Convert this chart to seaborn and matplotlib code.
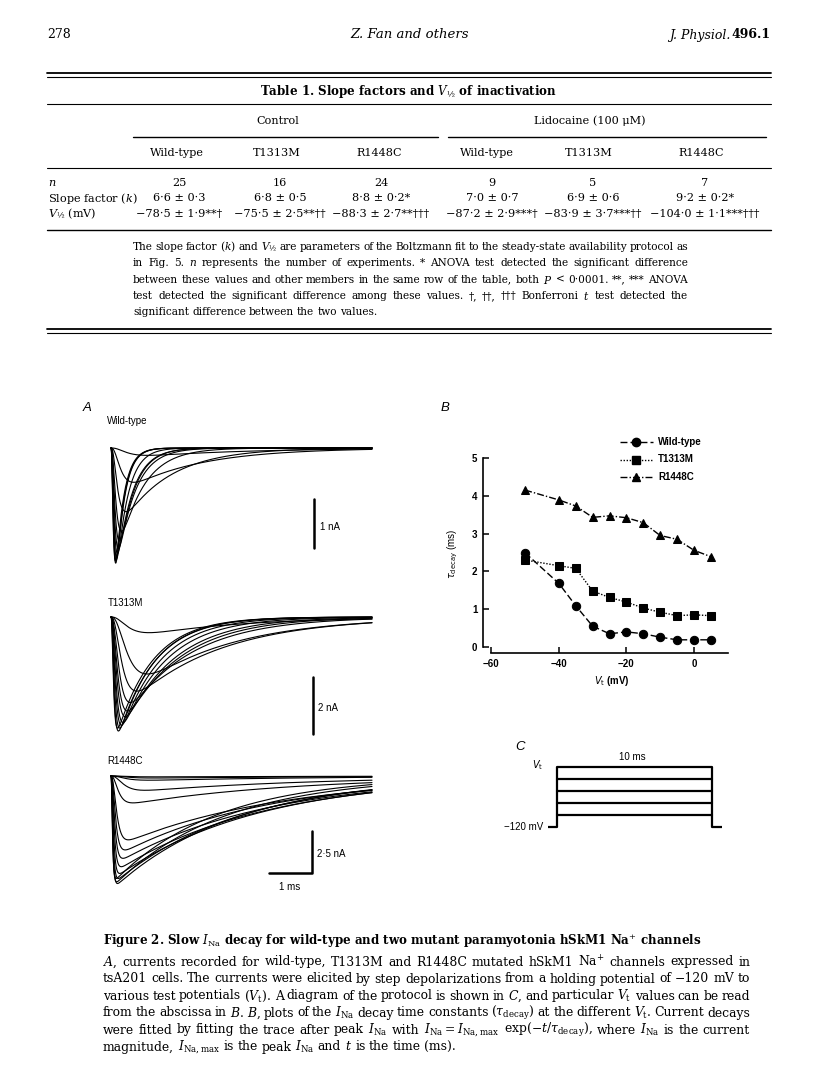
import re
import numpy as np
import pandas as pd
import seaborn as sns
import matplotlib.pyplot as plt
from matplotlib.lines import Line2D

# =========================
# Data
# =========================
# B: decay time constant (ms) at each test potential V_t (mV)
vt = [-50, -40, -35, -30, -25, -20, -15, -10, -5, 0, 5]
tau_wt = [2.49, 1.68, 1.09, 0.55, 0.35, 0.40, 0.35, 0.26, 0.19, 0.19, 0.19]
tau_t1313m = [2.30, 2.15, 2.08, 1.48, 1.31, 1.19, 1.03, 0.92, 0.83, 0.85, 0.83]
tau_r1448c = [4.15, 3.89, 3.73, 3.43, 3.47, 3.42, 3.29, 2.95, 2.85, 2.56, 2.39]

# A: peak current (nA) and activation time constant (ms) of each trace (same V_t as B)
amp_wt = [0.15, 0.7, 1.3, 1.7, 1.9, 2.05, 2.15, 2.25, 2.3, 2.35, 2.3]
taum_wt = [0.25, 0.15, 0.1, 0.08, 0.07, 0.055, 0.048, 0.045, 0.045, 0.04, 0.036]
amp_t1313m = [0.55, 2.0, 2.6, 3.0, 3.3, 3.5, 3.7, 3.8, 3.9, 4.0, 3.9]
taum_t1313m = [0.27, 0.26, 0.165, 0.125, 0.105, 0.09, 0.075, 0.064, 0.052, 0.042, 0.036]
amp_r1448c = [0.85, 1.6, 3.8, 4.4, 4.9, 5.4, 5.8, 6.1, 6.4, 6.3, 6.1]
taum_r1448c = [0.19, 0.11, 0.082, 0.065, 0.053, 0.044, 0.036, 0.030, 0.026, 0.0225, 0.0205]
# R1448C record also has three small traces below -50 mV
amp_r_small = [0.05, 0.12, 0.25]
taum_r_small = [0.25, 0.25, 0.22]
tauh_r_small = [4.5, 4.5, 4.3]
trace_len = 6.07  # ms

# C: pulse protocol (mV, ms)
v_hold = -120
v_steps = [-95, -70, -45, -20, 5]
pulse_ms = 10

# Table 1
groups = ["Control", "Lidocaine (100 μM)"]
genotypes = ["Wild-type", "T1313M", "R1448C", "Wild-type", "T1313M", "R1448C"]
n_cells = [25, 16, 24, 9, 5, 7]
k_mean = [6.6, 6.8, 8.8, 7.0, 6.9, 9.2]
k_sem = [0.3, 0.5, 0.2, 0.7, 0.6, 0.2]
k_mark = ["", "", "*", "", "", "*"]
vh_mean = [-78.5, -75.5, -88.3, -87.2, -83.9, -104.0]
vh_sem = [1.9, 2.5, 2.7, 2.9, 3.7, 1.1]
vh_mark = ["**†", "**††", "**†††", "***†", "***††", "***†††"]

table_note = [
    "The slope factor ($k$) and $V_{½}$ are parameters of the Boltzmann fit to the steady-state availability protocol as",
    "in Fig. 5. $n$ represents the number of experiments. * ANOVA test detected the significant difference",
    "between these values and other members in the same row of the table, both $P$ < 0·0001. **, *** ANOVA",
    "test detected the significant difference among these values. †, ††, ††† Bonferroni $t$ test detected the",
    "significant difference between the two values.",
]
caption_title = "Figure 2. Slow $I_{\\rm Na}$ decay for wild-type and two mutant paramyotonia hSkM1 Na$^{+}$ channels"
caption = [
    "$A$, currents recorded for wild-type, T1313M and R1448C mutated hSkM1 Na$^{+}$ channels expressed in",
    "tsA201 cells. The currents were elicited by step depolarizations from a holding potential of −120 mV to",
    "various test potentials ($V_{\\rm t}$). A diagram of the protocol is shown in $C$, and particular $V_{\\rm t}$ values can be read",
    "from the abscissa in $B$. $B$, plots of the $I_{\\rm Na}$ decay time constants ($\\tau_{\\rm decay}$) at the different $V_{\\rm t}$. Current decays",
    "were fitted by fitting the trace after peak $I_{\\rm Na}$ with $I_{\\rm Na} = I_{\\rm Na,max}$ exp(−$t/\\tau_{\\rm decay}$), where $I_{\\rm Na}$ is the current",
    "magnitude, $I_{\\rm Na,max}$ is the peak $I_{\\rm Na}$ and $t$ is the time (ms).",
]

# =========================
# Page setup
# =========================
sns.set_theme(style="white")
plt.rcParams["font.family"] = ["DejaVu Serif"]
plt.rcParams["mathtext.fontset"] = "dejavuserif"
for key in ["text.color", "axes.labelcolor", "xtick.color", "ytick.color", "axes.edgecolor"]:
    plt.rcParams[key] = "black"
SANS = ["Liberation Sans", "DejaVu Sans"]
SERIF = ["DejaVu Serif"]

W, H = 816, 1088
fig = plt.figure(figsize=(W / 100, H / 100), dpi=100)
rend = fig.canvas.get_renderer()


def ptext(x, y, s, **kw):
    kw.setdefault("va", "center")
    kw.setdefault("color", "black")
    return fig.text(x / W, 1 - y / H, s, **kw)


def hrule(x0, x1, y, lw=0.8):
    fig.add_artist(Line2D([x0 / W, x1 / W], [1 - y / H] * 2, lw=lw, color="black",
                          transform=fig.transFigure))


def px_axes(left, top, right, bottom):
    return fig.add_axes([left / W, 1 - bottom / H, (right - left) / W, (bottom - top) / H])


def justify(line, x0, x1, y, size, last=False, **kw):
    words = re.findall(r"(?:\$[^$]*\$|\S)+", line)
    objs = [ptext(x0, y, w, size=size, ha="left", family=SERIF, **kw) for w in words]
    widths = [o.get_window_extent(rend).width for o in objs]
    if last or len(words) == 1:
        gap = size * 0.4
    else:
        gap = (x1 - x0 - sum(widths)) / (len(words) - 1)
    x = x0
    for o, w in zip(objs, widths):
        o.set_x(x / W)
        x += w + gap


# =========================
# Running head
# =========================
ptext(47, 35, "278", size=9, ha="left")
ptext(410, 35, "Z. Fan and others", size=9.5, ha="center", style="italic")
vol = ptext(771, 35, "496.1", size=9, ha="right", weight="bold")
vw = vol.get_window_extent(rend).width
ptext(771 - vw - 1, 35, "J. Physiol.", size=9, ha="right", style="italic")

# =========================
# Table 1
# =========================
L, R = 47, 771
FS = 8.1
hrule(L, R, 73, 1.3)
hrule(L, R, 77, 0.8)
ptext(408, 91, "Table 1. Slope factors and $V_{½}$ of inactivation", size=8.6, ha="center", weight="bold")
hrule(L, R, 104, 0.8)
ptext(278, 121, groups[0], size=FS, ha="center")
ptext(590, 121, groups[1], size=FS, ha="center")
hrule(133, 438, 137, 1.0)
hrule(448, 766, 137, 1.0)
head_x = [177, 277, 379, 487, 589, 701]
val_x = [179, 280, 381, 492, 593, 705]
for x, g in zip(head_x, genotypes):
    ptext(x, 153, g, size=FS, ha="center")
hrule(L, R, 168, 0.8)


def fmt(v):
    return f"{v:.1f}".replace(".", "·").replace("-", "−")


ptext(L + 1, 183, "$n$", size=FS, ha="left")
ptext(L + 1, 198, "Slope factor ($k$)", size=FS, ha="left")
ptext(L + 1, 214, "$V_{½}$ (mV)", size=FS, ha="left")
for i, x in enumerate(val_x):
    ptext(x, 183, str(n_cells[i]), size=FS, ha="center")
    ptext(x, 198, f"{fmt(k_mean[i])} ± {fmt(k_sem[i])}{k_mark[i]}", size=FS, ha="center")
    ptext(x, 214, f"{fmt(vh_mean[i])} ± {fmt(vh_sem[i])}{vh_mark[i]}", size=FS, ha="center")
hrule(L, R, 230, 1.0)

for i, line in enumerate(table_note):
    justify(line, 133, 688, 247 + 16.3 * i, 7.6, last=(i == len(table_note) - 1))
hrule(L, R, 329, 1.3)
hrule(L, R, 333, 0.8)

# =========================
# A: current traces
# =========================
T0, PPMS = 111, 43.0  # px of t=0, px per ms
t = np.linspace(0, trace_len, 900)


def trace(a, tm, th):
    y = (1 - np.exp(-t / tm)) ** 3 * np.exp(-t / th)
    return -a * y / y.max()


def trace_axes(top, bottom, base, ppn):
    ax = px_axes(100, top, 380, bottom)
    ax.set_xlim((100 - T0) / PPMS, (380 - T0) / PPMS)
    ax.set_ylim(-(bottom - base) / ppn, (base - top) / ppn)
    ax.axis("off")
    return ax


def draw_traces(ax, amps, taums, tauhs):
    rows = []
    for k, (a, tm, th) in enumerate(zip(amps, taums, tauhs)):
        rows.append(pd.DataFrame({"t": t, "I": trace(a, tm, th), "trace": k}))
    df = pd.concat(rows)
    sns.lineplot(data=df, x="t", y="I", units="trace", estimator=None,
                 color="black", lw=0.8, ax=ax)
    ax.axis("off")


sans = dict(family=SANS, math_fontfamily="dejavusans")

# Wild-type
ax_wt = trace_axes(430, 575, 448, 49.0)
draw_traces(ax_wt, amp_wt, taum_wt, tau_wt)
ax_wt.plot([4.72, 4.72], [-1.04, -2.04], color="black", lw=1.8, clip_on=False)
ptext(320, 527, "1 nA", size=7, ha="left", **sans)
ptext(107, 421, "Wild-type", size=7, ha="left", **sans)

# T1313M
ax_t = trace_axes(605, 745, 617, 28.5)
draw_traces(ax_t, amp_t1313m, taum_t1313m, tau_t1313m)
ax_t.plot([4.70, 4.70], [-2.1, -4.1], color="black", lw=1.8, clip_on=False)
ptext(318, 708, "2 nA", size=7, ha="left", **sans)
ptext(108, 603, "T1313M", size=7, ha="left", **sans)

# R1448C
ax_r = trace_axes(765, 895, 776, 16.8)
draw_traces(ax_r, amp_r_small + amp_r1448c, taum_r_small + taum_r1448c, tauh_r_small + tau_r1448c)
ax_r.plot([3.67, 4.67, 4.67], [-5.77, -5.77, -3.27], color="black", lw=1.8, clip_on=False)
ptext(317, 854, "2·5 nA", size=7, ha="left", **sans)
ptext(290, 887, "1 ms", size=7, ha="center", **sans)
ptext(107, 761, "R1448C", size=7, ha="left", **sans)

ptext(87, 408, "A", size=9.5, ha="center", style="italic", **sans)

# =========================
# B: tau_decay vs V_t
# =========================
names = ["Wild-type", "T1313M", "R1448C"]
df_b = pd.DataFrame({
    "V": vt * 3,
    "tau": tau_wt + tau_t1313m + tau_r1448c,
    "channel": [n for n in names for _ in vt],
})
markers = {"Wild-type": "o", "T1313M": "s", "R1448C": "^"}
dashes = {"Wild-type": (5, 2.2), "T1313M": (1, 1.2), "R1448C": (5, 1.5, 1, 1.5)}

# px: y=0 at 647, 37.75 px per ms; x=-60 at 491.7, 3.37 px per mV
axb = px_axes(483, 458, 727.6, 653)
sns.lineplot(data=df_b, x="V", y="tau", style="channel", markers=markers, dashes=dashes,
             color="black", lw=1.0, markersize=6, markeredgecolor="black",
             legend=False, ax=axb, clip_on=False)
axb.set_xlim(-62.5, 10)
axb.set_ylim(-0.159, 5)
for s in ["top", "right"]:
    axb.spines[s].set_visible(False)
axb.spines["left"].set_bounds(0, 5)
axb.spines["bottom"].set_bounds(-60, 10)
for s in ["left", "bottom"]:
    axb.spines[s].set_linewidth(1.2)
    axb.spines[s].set_color("black")
axb.set_xticks([-60, -40, -20, 0])
axb.set_yticks([0, 1, 2, 3, 4, 5])
axb.tick_params(direction="in", length=4, width=1.1, labelsize=7, pad=4, colors="black",
                left=True, bottom=True)
for lab in axb.get_xticklabels() + axb.get_yticklabels():
    lab.set_family(SANS)
    lab.set_weight("bold")
axb.set_xlabel("$V_{\\rm t}$ (mV)", fontsize=7, weight="bold", **sans)
axb.set_ylabel("$\\tau_{\\rm decay}$ (ms)", fontsize=7, **sans)
axb.xaxis.set_label_coords(0.527, -0.11)
axb.yaxis.set_label_coords(-0.095, 0.51)
axb.grid(False)
axb.patch.set_alpha(0)

# legend
for i, n in enumerate(names):
    y = 1 - (442 + 17.5 * i) / H
    fig.add_artist(Line2D([620 / W, 653 / W], [y, y], lw=1.0, color="black",
                          dashes=dashes[n], transform=fig.transFigure))
    fig.add_artist(Line2D([636 / W], [y], marker=markers[n], ms=6, color="black",
                          transform=fig.transFigure))
    ptext(658, 442 + 17.5 * i, n, size=7, ha="left", weight="bold", **sans)

ptext(445, 408, "B", size=9.5, ha="center", style="italic", **sans)

# =========================
# C: voltage protocol
# =========================
# px: t=0 at 557, 15.5 px per ms; -120 mV at 827, 12 px per 25 mV
axc = px_axes(540, 755, 730, 840)
axc.set_xlim((540 - 557) / 15.5, (730 - 557) / 15.5)
axc.set_ylim(v_hold - 13 * 25 / 12, v_hold + 72 * 25 / 12)
axc.axis("off")
top = max(v_steps)
axc.plot([-0.6, 0, 0], [v_hold, v_hold, top], color="black", lw=1.6, solid_capstyle="butt")
axc.plot([pulse_ms, pulse_ms, pulse_ms + 0.65], [top, v_hold, v_hold], color="black", lw=1.6,
         solid_capstyle="butt")
for v in v_steps:
    axc.plot([0, pulse_ms], [v, v], color="black", lw=1.6)
ptext(543, 765, "$V_{\\rm t}$", size=7, ha="right", **sans)
ptext(632, 757, "10 ms", size=7, ha="center", **sans)
ptext(543, 827, "−120 mV", size=7, ha="right", **sans)
ptext(520, 747, "C", size=9.5, ha="center", style="italic", **sans)

# =========================
# Caption
# =========================
ptext(103, 941, caption_title, size=8.6, ha="left", weight="bold")
for i, line in enumerate(caption):
    justify(line, 103, 750, 962 + 17 * i, 8.9, last=(i == len(caption) - 1))

fig.savefig("out.png", dpi=100)
